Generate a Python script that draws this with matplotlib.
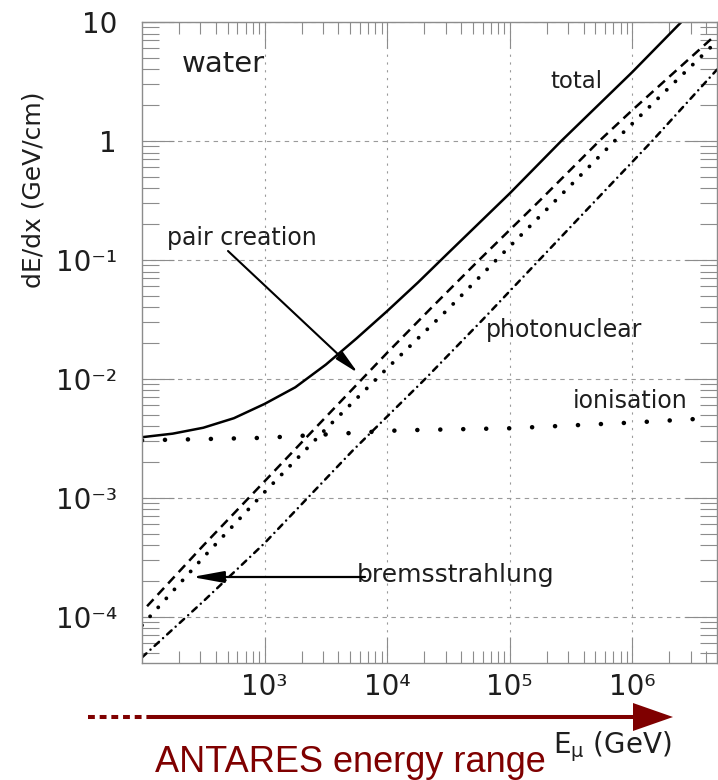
import numpy as np
import matplotlib
matplotlib.use("Agg")
import matplotlib.pyplot as plt
from matplotlib.ticker import LogLocator, NullFormatter
from matplotlib.patches import Polygon

## values (E in GeV, dE/dx in GeV/cm)
E_total = [1e2, 1.78e2, 3.16e2, 5.62e2, 1e3, 1.78e3, 3.16e3, 5.62e3, 1e4, 1.78e4,
           3.16e4, 1e5, 2.63e5, 1e6, 2.51e6]
total = [3.24e-3, 3.47e-3, 3.89e-3, 4.68e-3, 6.17e-3, 8.51e-3, 0.0132, 0.0219,
         0.0372, 0.0646, 0.115, 0.363, 1.0, 3.8, 10.0]

E_pair = [1.1e2, 3.16e2, 1e3, 3.16e3, 1e4, 2.37e4, 5.62e4, 1.78e5, 5.37e5, 1e6, 4.42e6]
pair = [1.23e-4, 3.98e-4, 1.38e-3, 4.79e-3, 0.0166, 0.041, 0.1, 0.32, 1.0, 1.82, 7.24]

E_brems = [1e2, 3.16e2, 1e3, 3.16e3, 1e4, 3.16e4, 7.76e4, 3.16e5, 7.16e5, 1.78e6, 4.47e6]
brems = [8.5e-5, 3.16e-4, 1.12e-3, 3.8e-3, 0.0123, 0.0389, 0.1, 0.427, 1.0, 2.51, 6.3]

E_nucl = [1e2, 3.16e2, 1e3, 5.25e3, 2.04e4, 6.03e4, 1.74e5, 5.01e5, 1.45e6, 4.9e6]
nucl = [4.57e-5, 1.35e-4, 4.17e-4, 2.51e-3, 0.01, 0.0316, 0.1, 0.316, 1.0, 3.98]

E_ion = [1e2, 1e3, 1.26e4, 1e5, 1e6, 3.2e6]
ion = [3.05e-3, 3.2e-3, 3.7e-3, 3.85e-3, 4.3e-3, 4.6e-3]

x_ticks = [1e3, 1e4, 1e5, 1e6]
x_labels = ["10³", "10⁴", "10⁵", "10⁶"]
y_ticks = [1e-4, 1e-3, 1e-2, 1e-1, 1, 10]
y_labels = ["10⁻⁴", "10⁻³", "10⁻²", "10⁻¹", "1", "10"]

W, H = 718, 780
gray = "#8c8c8c"
txt = "#1e1e1e"
red = "#7f0000"

fig = plt.figure(figsize=(W / 100, H / 100), dpi=100)
ax = fig.add_axes([142 / W, 1 - 663 / H, (717 - 142) / W, (663 - 22) / H])
ax.set_xscale("log")
ax.set_yscale("log")

## curves
ax.plot(E_total, total, color="black", lw=1.8)
ax.plot(E_pair, pair, color="black", lw=1.8, ls=(0, (3.8, 2.4)))
ax.plot(E_brems, brems, color="black", lw=2.8, ls=(0, (0.01, 3.1)),
        dash_capstyle="round")
ax.plot(E_nucl, nucl, color="black", lw=1.8, ls=(0, (2.4, 2.2, 0.01, 2.2)),
        dash_capstyle="round")
ax.plot(E_ion, ion, color="black", lw=3.3, ls=(0, (0.01, 5.0)),
        dash_capstyle="round")

ax.set_xlim(1e2, 4.9e6)
ax.set_ylim(4.1e-5, 10)

## ticks and grid
ax.set_xticks(x_ticks)
ax.set_xticklabels(x_labels)
ax.set_yticks(y_ticks)
ax.set_yticklabels(y_labels)
ax.xaxis.set_minor_locator(LogLocator(base=10, subs=np.arange(2, 10), numticks=30))
ax.yaxis.set_minor_locator(LogLocator(base=10, subs=np.arange(2, 10), numticks=30))
ax.xaxis.set_minor_formatter(NullFormatter())
ax.yaxis.set_minor_formatter(NullFormatter())

ax.tick_params(axis="x", which="major", direction="in", length=18.7, width=0.8,
               color=gray, top=True, labelsize=20, pad=7, labelcolor=txt)
ax.tick_params(axis="x", which="minor", direction="in", length=8.6, width=0.8,
               color=gray, top=True)
ax.tick_params(axis="y", which="major", direction="in", length=23, width=0.8,
               color=gray, right=True, labelsize=20, pad=18, labelcolor=txt)
ax.tick_params(axis="y", which="minor", direction="in", length=12, width=0.8,
               color=gray, right=True)
for s in ax.spines.values():
    s.set_color(gray)
    s.set_linewidth(1.0)

ax.set_axisbelow(True)
ax.grid(True, which="major", axis="x", color="#9a9a9a", lw=0.8, ls=(0, (2, 5)))
ax.grid(True, which="major", axis="y", color="#9a9a9a", lw=0.8, ls=(0, (4, 4)))

## overlay in pixel coordinates for the labels and arrows
ov = fig.add_axes([0, 0, 1, 1], zorder=5)
ov.set_xlim(0, W)
ov.set_ylim(H, 0)
ov.axis("off")
ov.patch.set_visible(False)

ov.text(34, 190, "dE/dx (GeV/cm)", rotation=90, ha="center", va="center",
        fontsize=18, color=txt)

ov.text(182, 72, "water", fontsize=21, color=txt, va="baseline")
ov.text(550, 88, "total", fontsize=16.5, color=txt, va="baseline")
ov.text(167, 245, "pair creation", fontsize=17, color=txt, va="baseline")
ov.text(486, 337, "photonuclear", fontsize=17, color=txt, va="baseline")
ov.text(573, 408, "ionisation", fontsize=17, color=txt, va="baseline")
ov.text(357, 582, "bremsstrahlung", fontsize=18, color=txt, va="baseline")

ov.annotate("", xy=(358, 373), xytext=(228, 251),
            arrowprops=dict(arrowstyle="-|>,head_length=0.9,head_width=0.18",
                            mutation_scale=16, lw=1.5, color="black",
                            shrinkA=0, shrinkB=0))
ov.annotate("", xy=(192, 577), xytext=(365, 577),
            arrowprops=dict(arrowstyle="-|>,head_length=1.2,head_width=0.22",
                            mutation_scale=16, lw=1.6, color="black",
                            shrinkA=0, shrinkB=0))

## ANTARES energy range arrow
ov.plot([88, 147], [717, 717], color=red, lw=2.9, ls=(0, (1.7, 1.2)),
        solid_capstyle="butt")
ov.plot([147, 636], [717, 717], color=red, lw=2.9, solid_capstyle="butt")
ov.add_patch(Polygon([(633, 703), (673, 717), (633, 731)], closed=True,
                     color=red, lw=0))
ov.text(155, 772, "ANTARES energy range", fontsize=26, color=red, va="baseline",
        family=["Liberation Sans", "DejaVu Sans"])
ov.text(553, 753, r"E$_\mathregular{\mu}$ (GeV)", fontsize=20, color=txt,
        va="baseline")

fig.savefig("out.png", dpi=100)
